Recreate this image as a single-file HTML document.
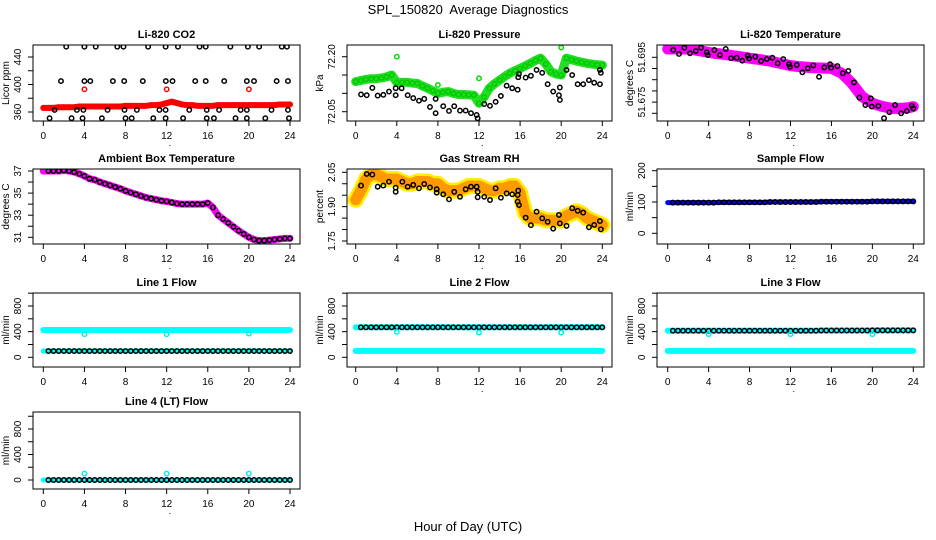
<!DOCTYPE html>
<html><head><meta charset="utf-8"><style>
body{margin:0;background:#fff}
svg{display:block;font-family:"Liberation Sans",sans-serif}
</style></head><body>
<svg id="chart" width="936" height="540" viewBox="0 0 936 540" xmlns="http://www.w3.org/2000/svg">
<rect width="936" height="540" fill="#fff"/>
<text x="468" y="14" font-size="13" text-anchor="middle">SPL_150820&#160; Average Diagnostics</text>
<text x="468" y="531" font-size="13" text-anchor="middle">Hour of Day (UTC)</text>
</svg>
<script>
const H=[0,0.5,1,1.5,2,2.5,3,3.5,4,4.5,5,5.5,6,6.5,7,7.5,8,8.5,9,9.5,10,10.5,11,11.5,12,12.5,13,13.5,14,14.5,15,15.5,16,16.5,17,17.5,18,18.5,19,19.5,20,20.5,21,21.5,22,22.5,23,23.5,24];
const xTicks=[0,4,8,12,16,20,24];
// CO2
const co2Band=[366,366,366,367,367,367,367,368,368,368,368,368,368,368,368,368,369,369,369,369,369,370,370,371,373,375,373,371,370,370,369,369,369,369,370,370,370,370,370,370,370,370,370,370,370,370,371,371,371];
const co2OutX=[4,12,20];
const co2OutY=[393,393,393];
const co2L1X=[2.23,4.0,5.1,7.2,7.8,10.2,11.9,13.1,15.2,15.8,18.2,19.9,21.0,23.2,23.7];
const co2L2X=[1.72,4.0,4.57,6.77,7.87,9.68,11.92,12.57,14.78,15.8,17.6,19.8,20.5,22.7,23.8];
const co2L3X=[1.1,3.27,3.9,6.25,7.9,9.1,11.3,11.9,14.2,15.9,17.1,19.2,19.8,22.2,23.8];
const co2L4X=[0.61,2.75,3.82,5.7,8.0,8.6,10.7,11.9,13.6,15.9,16.6,18.7,19.8,21.6,23.9];
const co2Levels=[455,405,363,351];
// Pressure
const presBand=[72.132,72.135,72.138,72.14,72.14,72.142,72.145,72.15,72.13,72.13,72.13,72.128,72.127,72.12,72.114,72.107,72.10,72.103,72.105,72.10,72.097,72.097,72.096,72.095,72.073,72.09,72.114,72.126,72.136,72.146,72.155,72.162,72.168,72.175,72.182,72.19,72.196,72.18,72.159,72.153,72.15,72.196,72.192,72.188,72.185,72.182,72.18,72.178,72.177];
const presOutX=[4,12,20,8];
const presOutY=[72.20,72.141,72.225,72.123];
const presPtX=[0.52,1.07,1.62,2.14,2.69,3.24,3.89,3.89,4.47,5.06,5.6,6.16,6.67,7.23,7.78,7.78,8.52,9.08,9.59,10.15,10.7,11.22,11.77,11.87,12.51,13.07,13.62,14.13,14.69,15.23,15.76,15.82,15.89,16.54,17.05,17.6,18.15,18.68,19.22,19.78,19.87,19.87,20.52,21.07,21.6,22.14,22.7,23.21,23.77,23.86,23.77];
const presPtY=[72.097,72.095,72.115,72.094,72.096,72.105,72.114,72.095,72.114,72.095,72.087,72.080,72.085,72.063,72.046,72.085,72.065,72.052,72.065,72.053,72.053,72.046,72.041,72.032,72.071,72.066,72.077,72.093,72.121,72.114,72.110,72.144,72.153,72.143,72.148,72.164,72.156,72.125,72.105,72.095,72.116,72.082,72.164,72.150,72.125,72.125,72.136,72.129,72.125,72.156,72.164];
// Li-820 temperature
const tempBand=[51.6987,51.6987,51.6987,51.6987,51.6987,51.6984,51.698,51.6976,51.6972,51.6968,51.6966,51.6963,51.696,51.6956,51.6953,51.695,51.6946,51.6943,51.694,51.6936,51.6933,51.6928,51.6923,51.6918,51.6913,51.691,51.6908,51.6906,51.6904,51.6903,51.6902,51.6901,51.6901,51.689,51.6879,51.6857,51.6834,51.6804,51.6774,51.676,51.6745,51.6737,51.673,51.6726,51.6722,51.6722,51.6723,51.6725,51.673];
const tempPtX=[0.55,1.10,1.63,2.18,2.74,3.26,3.81,3.91,4.56,5.11,5.67,6.19,6.74,7.29,7.82,7.95,8.56,9.12,9.68,10.23,10.75,11.30,11.86,11.95,12.61,13.16,13.69,14.23,14.79,15.31,15.87,15.96,16.58,17.11,17.65,18.21,18.73,19.32,19.85,19.94,20.59,21.14,21.66,22.22,22.81,23.36,23.85,24.0];
const tempPtY=[51.6983,51.6965,51.6993,51.6968,51.6978,51.6993,51.6972,51.6960,51.6983,51.6960,51.6987,51.6946,51.6948,51.6935,51.6957,51.6946,51.6953,51.6933,51.6942,51.6948,51.6923,51.6942,51.6919,51.6908,51.6916,51.6883,51.6901,51.6914,51.6863,51.6905,51.6919,51.6904,51.6911,51.6879,51.6889,51.6838,51.6770,51.6737,51.6767,51.6730,51.6733,51.6678,51.6705,51.6737,51.6700,51.6710,51.6734,51.6722];
// Ambient box temperature
const ambBand=[37.0,37.0,37.0,37.0,37.05,37.0,36.9,36.75,36.55,36.3,36.2,36.0,35.85,35.7,35.55,35.4,35.2,35.05,34.9,34.75,34.6,34.5,34.4,34.3,34.25,34.15,34.05,34.0,34.0,34.0,34.0,34.0,34.1,33.7,33.0,32.65,32.3,31.95,31.6,31.3,31.0,30.8,30.7,30.7,30.75,30.8,30.85,30.9,30.9];
// Gas RH
const rhBand=[1.93,1.97,2.02,2.04,2.04,2.03,2.02,2.02,2.02,2.01,2.00,2.00,2.01,2.01,2.01,2.00,2.00,1.98,1.97,1.97,1.97,1.98,1.99,1.99,1.99,1.98,1.97,1.97,1.98,1.98,1.99,1.99,1.96,1.87,1.85,1.85,1.85,1.84,1.84,1.84,1.84,1.86,1.87,1.88,1.87,1.85,1.84,1.83,1.82];
const rhPtX=[0.52,1.07,1.62,2.14,2.69,3.24,3.89,3.89,4.54,5.06,5.6,6.16,6.67,7.23,7.88,7.88,8.52,9.08,9.59,10.15,10.7,11.22,11.77,11.87,11.87,12.51,13.07,13.62,14.13,14.69,15.23,15.76,15.82,15.76,15.89,16.54,17.05,17.6,18.15,18.68,19.22,19.78,19.87,20.52,21.07,21.6,22.14,22.7,23.21,23.77,23.86];
const rhPtY=[1.992,2.043,2.040,1.987,1.992,2.009,1.983,1.965,2.009,1.987,1.995,1.980,1.999,1.984,1.976,1.961,1.954,1.932,1.965,1.943,1.976,1.987,1.987,1.965,1.941,1.943,1.929,1.980,1.939,1.958,1.954,1.951,1.970,1.922,1.907,1.852,1.819,1.878,1.849,1.834,1.804,1.864,1.827,1.816,1.893,1.882,1.874,1.810,1.820,1.837,1.801];
// Flows
const sampleBand=[98,98,98,98,98,98,98,98,98,98,99,99,99,99,99,99,99,99,99,99,100,100,100,100,100,100,100,100,100,100,101,101,101,101,101,101,101,101,101,101,102,102,102,102,102,102,102,102,102];
const line1High=[426,426,426,426,426,426,426,426,426,426,426,426,426,426,426,426,426,426,426,426,426,426,426,426,426,426,426,426,426,426,426,426,426,426,426,426,426,426,426,426,426,426,426,426,426,426,426,426,426];
const line1Low=[98,98,98,98,98,98,98,98,98,98,98,98,98,98,98,98,98,98,98,98,98,98,98,98,98,98,98,98,98,98,98,98,98,98,98,98,98,98,98,98,98,98,98,98,98,98,98,98,98];
const line1Out=[360,360,370];
const line2High=[468,468,468,468,468,468,468,468,468,468,468,468,468,468,468,468,468,468,468,468,468,468,468,468,468,468,468,468,468,468,468,468,468,468,468,468,468,468,468,468,468,468,468,468,468,468,468,468,468];
const line2Low=[100,100,100,100,100,100,100,100,100,100,100,100,100,100,100,100,100,100,100,100,100,100,100,100,100,100,100,100,100,100,100,100,100,100,100,100,100,100,100,100,100,100,100,100,100,100,100,100,100];
const line2Out=[395,385,385];
const line3High=[415,415,415,415,415,415,415,415,415,415,415,415,415,415,415,415,415,415,415,415,415,415,415,415,415,415,415,415,415,415,418,418,418,418,418,418,418,418,418,418,420,420,420,420,420,420,420,420,420];
const line3Low=[100,100,100,100,100,100,100,100,100,100,100,100,100,100,100,100,100,100,100,100,100,100,100,100,100,100,100,100,100,100,100,100,100,100,100,100,100,100,100,100,100,100,100,100,100,100,100,100,100];
const line3Out=[360,360,360];
const line4Vals=[0,0,0,0,0,0,0,0,0,0,0,0,0,0,0,0,0,0,0,0,0,0,0,0,0,0,0,0,0,0,0,0,0,0,0,0,0,0,0,0,0,0,0,0,0,0,0,0,0];
const line4Out=[100,100,100];

const NS='http://www.w3.org/2000/svg';
const svg=document.getElementById('chart');
function mk(tag,parent){const e=document.createElementNS(NS,tag);(parent||svg).appendChild(e);return e;}
function seq(a,b,s){const r=[];for(let v=a;v<=b+s*1e-6;v+=s)r.push(+v.toFixed(4));return r;}

const cols=[{x0:33,x1:300,z:43.3,t:290},{x0:347,x1:612,z:355.7,t:602.3},{x0:657,x1:924,z:667.7,t:913.3}];
const rows=[{y0:45,y1:121},{y0:169,y1:244},{y0:293,y1:367},{y0:412,y1:489}];

function makePanel(name,title,ylab,c,r,v0,p0,v1,p1,ticks,labels,fmt){
  const C=cols[c],R=rows[r];
  const g=mk('g');
  
  
  const P={g,C,R,
    x:h=>C.z+(C.t-C.z)*h/24,
    y:v=>p0+(p1-p0)*(v-v0)/(v1-v0)};
  const clip=mk('clipPath',g);clip.setAttribute('id','clip-'+name);
  const cr=mk('rect',clip);cr.setAttribute('x',C.x0);cr.setAttribute('y',R.y0);cr.setAttribute('width',C.x1-C.x0);cr.setAttribute('height',R.y1-R.y0);
  const marks=mk('g',g);marks.setAttribute('clip-path','url(#clip-'+name+')');
  
  
  P.m=marks;
  const box=mk('rect',g);
  
  
  box.setAttribute('x',C.x0);box.setAttribute('y',R.y0);box.setAttribute('width',C.x1-C.x0);box.setAttribute('height',R.y1-R.y0);
  box.setAttribute('fill','none');box.setAttribute('stroke','#000');box.setAttribute('stroke-width','1');
  const t=mk('text',g);
  
  
  t.setAttribute('x',(C.x0+C.x1)/2);t.setAttribute('y',R.y0-7);t.setAttribute('font-size','11');t.setAttribute('font-weight','bold');t.setAttribute('text-anchor','middle');t.textContent=title;
  xTicks.forEach(h=>{
    const l=mk('line',g);
    
    
    l.setAttribute('x1',P.x(h));l.setAttribute('x2',P.x(h));l.setAttribute('y1',R.y1);l.setAttribute('y2',R.y1+5);l.setAttribute('stroke','#000');
    const tx=mk('text',g);
    
    
    tx.setAttribute('x',P.x(h));tx.setAttribute('y',R.y1+18);tx.setAttribute('font-size','10');tx.setAttribute('text-anchor','middle');tx.textContent=h;
  });
  const dot=mk('text',g);
  
  
  dot.setAttribute('x',P.x(12)+2);dot.setAttribute('y',R.y1+25);dot.setAttribute('font-size','9');dot.textContent='.';
  ticks.forEach(v=>{
    const l=mk('line',g);
    
    
    l.setAttribute('x1',C.x0-5);l.setAttribute('x2',C.x0);l.setAttribute('y1',P.y(v));l.setAttribute('y2',P.y(v));l.setAttribute('stroke','#000');
  });
  labels.forEach(v=>{
    const tx=mk('text',g);
    
    
    const yy=P.y(v),xx=C.x0-12;
    tx.setAttribute('transform','translate('+xx+','+yy+') rotate(-90)');tx.setAttribute('font-size','10');tx.setAttribute('text-anchor','middle');
    tx.textContent=fmt?fmt(v):v;
  });
  const yl=mk('text',g);
  
  
  yl.setAttribute('transform','translate('+(C.x0-24)+','+((R.y0+R.y1)/2)+') rotate(-90)');yl.setAttribute('font-size','10');yl.setAttribute('text-anchor','middle');yl.textContent=ylab;
  return P;
}
function band(P,xs,ys,color,w,nm){
  const pl=mk('polyline',P.m);
  
  
  pl.setAttribute('points',xs.map((h,i)=>P.x(h)+','+P.y(ys[i])).join(' '));
  pl.setAttribute('fill','none');pl.setAttribute('stroke',color);pl.setAttribute('stroke-width',w);pl.setAttribute('stroke-linejoin','round');pl.setAttribute('stroke-linecap','round');
}
function pts(P,xs,ys,color,nm,r){
  xs.forEach((h,i)=>{
    const c=mk('circle',P.m);
    
    
    c.setAttribute('cx',P.x(h));c.setAttribute('cy',P.y(ys[i]));c.setAttribute('r',r||2.2);
    c.setAttribute('fill','none');c.setAttribute('stroke',color);c.setAttribute('stroke-width','1.5');
  });
}
const H1=H.slice(1);
const f3=v=>v.toFixed(3), f2=v=>v.toFixed(2);

let P=makePanel('co2-panel','Li-820 CO2','Licor ppm',0,0,360,112,440,57,seq(360,440,20),[360,400,440]);
band(P,H,co2Band,'#ff0000',6,'co2-band');
pts(P,H,co2Band,'#ff0000','co2-band-point');
[co2L1X,co2L2X,co2L3X,co2L4X].forEach((xs,k)=>pts(P,xs,xs.map(()=>co2Levels[k]),'#000','co2-licor-point'));
pts(P,co2OutX,co2OutY,'#ff0000','co2-outlier');

P=makePanel('pressure-panel','Li-820 Pressure','kPa',1,0,72.05,111.7,72.20,56.7,seq(72.05,72.20,0.05),[72.05,72.20],f2);
band(P,H,presBand,'#22dd22',9,'pressure-band');
pts(P,H,presBand,'#00cc00','pressure-band-point');
pts(P,presOutX,presOutY,'#00dd00','pressure-outlier');
pts(P,presPtX,presPtY,'#000','pressure-point');

P=makePanel('li820-temp-panel','Li-820 Temperature','degrees C',2,0,51.670,113.3,51.695,57.3,seq(51.670,51.695,0.005),[51.675,51.695],f3);
band(P,H,tempBand,'#ff00ff',11,'li820-temp-band');
pts(P,H,tempBand,'#ee00ee','li820-temp-band-point',3);
pts(P,tempPtX,tempPtY,'#000','li820-temp-point');

P=makePanel('ambient-temp-panel','Ambient Box Temperature','degrees C',0,1,31,237.3,37,171,seq(31,37,1),[31,33,35,37]);
band(P,H,ambBand,'#ff00ff',7,'ambient-temp-band');
pts(P,H1,ambBand.slice(1),'#000','ambient-temp-point');

P=makePanel('gas-rh-panel','Gas Stream RH','percent',1,1,1.75,241,2.05,172.3,seq(1.75,2.05,0.05),[1.75,1.90,2.05],f2);
band(P,H,rhBand,'#ffee00',16,'gas-rh-band-outer');
band(P,H,rhBand,'#ff9900',11,'gas-rh-band');
pts(P,rhPtX,rhPtY,'#000','gas-rh-point');

P=makePanel('sample-flow-panel','Sample Flow','ml/min',2,1,0,233.3,200,170.7,seq(0,200,50),[0,100,200]);
band(P,H,sampleBand,'#0000ff',5,'sample-flow-band');
pts(P,H1,sampleBand.slice(1),'#000','sample-flow-point');

const flowTicks=seq(0,1000,200);
P=makePanel('line1-flow-panel','Line 1 Flow','ml/min',0,2,0,357.3,800,306,flowTicks,[0,400,800]);
band(P,H,line1High,'#00ffff',6,'line1-high-band');
band(P,H,line1Low,'#00ffff',5,'line1-low-band');
pts(P,H1,line1Low.slice(1),'#000','line1-point');
pts(P,co2OutX,line1Out,'#00eeee','line1-outlier');

P=makePanel('line2-flow-panel','Line 2 Flow','ml/min',1,2,0,357.3,800,306,flowTicks,[0,400,800]);
band(P,H,line2High,'#00ffff',6,'line2-high-band');
band(P,H,line2Low,'#00ffff',6,'line2-low-band');
pts(P,H1,line2High.slice(1),'#000','line2-point');
pts(P,co2OutX,line2Out,'#00eeee','line2-outlier');

P=makePanel('line3-flow-panel','Line 3 Flow','ml/min',2,2,0,357.3,800,306,flowTicks,[0,400,800]);
band(P,H,line3High,'#00ffff',6,'line3-high-band');
band(P,H,line3Low,'#00ffff',6,'line3-low-band');
pts(P,H1,line3High.slice(1),'#000','line3-point');
pts(P,co2OutX,line3Out,'#00eeee','line3-outlier');

P=makePanel('line4-flow-panel','Line 4 (LT) Flow','ml/min',0,3,0,480,800,429,flowTicks,[0,400,800]);
band(P,H,line4Vals,'#00ffff',5,'line4-band');
pts(P,H1,line4Vals.slice(1),'#000','line4-point');
pts(P,co2OutX,line4Out,'#00eeee','line4-outlier');
</script>
</body></html>
